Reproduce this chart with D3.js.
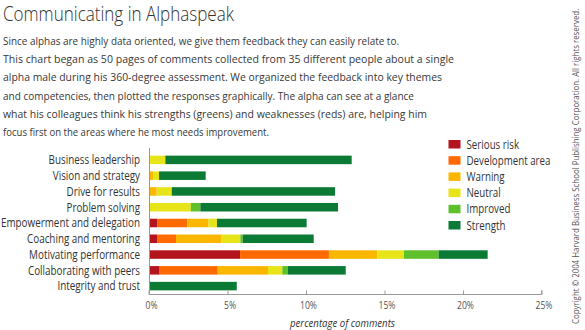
<!DOCTYPE html>
<html>
<head>
<meta charset="utf-8">
<script src="https://cdn.jsdelivr.net/npm/d3@7"></script>
<style>
  html, body { margin: 0; padding: 0; background: #fff; }
  svg { display: block; font-family: "Open Sans", "Noto Sans", sans-serif; }
</style>
</head>
<body>
<svg id="chart" width="585" height="330"></svg>
<script>
// ---------- data ----------
const categories = [
  "Business leadership",
  "Vision and strategy",
  "Drive for results",
  "Problem solving",
  "Empowerment and delegation",
  "Coaching and mentoring",
  "Motivating performance",
  "Collaborating with peers",
  "Integrity and trust"
];
const seriesNames = ["Serious risk", "Development area", "Warning", "Neutral", "Improved", "Strength"];
const seriousRisk     = [0,    0,    0,    0,    0.51, 0.51, 5.80, 0.68, 0];
const developmentArea = [0,    0,    0,    0,    1.93, 1.21, 5.66, 3.70, 0];
const warning         = [0,    0.27, 0.49, 0,    1.34, 2.87, 3.08, 3.20, 0];
const neutral         = [1.04, 0.37, 0.96, 2.66, 0.55, 1.23, 1.70, 0.91, 0];
const improved        = [0,    0,    0,    0.61, 0,    0.15, 2.21, 0.36, 0];
const strength        = [11.87,2.97, 10.40,8.77, 5.71, 4.52, 3.12, 3.68, 5.59];
const xTicks = [0, 5, 10, 15, 20, 25];
const xTickLabels = ["0%", "5%", "10%", "15%", "20%", "25%"];
const titleText = "Communicating in Alphaspeak";
const bodyLines = [
  "Since alphas are highly data oriented, we give them feedback they can easily relate to.",
  "This chart began as 50 pages of comments collected from 35 different people about a single",
  "alpha male during his 360-degree assessment. We organized the feedback into key themes",
  "and competencies, then plotted the responses graphically. The alpha can see at a glance",
  "what his colleagues think his strengths (greens) and weaknesses (reds) are, helping him",
  "focus first on the areas where he most needs improvement."
];
const axisTitle = "percentage of comments";
const copyrightText = "Copyright \u00A9 2004 Harvard Business School Publishing Corporation. All rights reserved.";

// ---------- styles / layout ----------
const colors = ["#b3141d", "#ff6a00", "#fbb600", "#e8e41a", "#5ec12c", "#0b7a35"];
const bodyWidths = [396, 451, 439, 411, 424, 266];
const seriesValues = [seriousRisk, developmentArea, warning, neutral, improved, strength];

const svg = d3.select("#chart");

// helper: measure natural widths of strings at a font size
function measure(strings, size, extra) {
  const t = svg.append("text").attr("font-size", size);
  if (extra) extra(t);
  const w = strings.map(s => { t.text(s); return t.node().getComputedTextLength(); });
  t.remove();
  return w;
}
// condense a set of strings uniformly so the widest reaches targetWidth
function condensed(sel, strings, size, targetWidth, extra) {
  const w = measure(strings, size, extra);
  const k = targetWidth / Math.max(...w);
  sel.attr("font-size", size)
     .attr("textLength", d => w[strings.indexOf(d)] * k)
     .attr("lengthAdjust", "spacingAndGlyphs");
}

// title
svg.append("text")
  .attr("x", 3).attr("y", 21)
  .attr("font-size", 19.5).attr("font-weight", 300)
  .attr("fill", "#333")
  .attr("textLength", 231).attr("lengthAdjust", "spacingAndGlyphs")
  .text(titleText);

// body paragraph
svg.append("g").selectAll("text")
  .data(bodyLines)
  .join("text")
  .attr("x", 3)
  .attr("y", (d, i) => 45 + i * 18.2)
  .attr("font-size", 11.5)
  .attr("fill", "#383838")
  .attr("textLength", (d, i) => bodyWidths[i])
  .attr("lengthAdjust", "spacingAndGlyphs")
  .text(d => d);

// scales
const x = d3.scaleLinear().domain([0, 25]).range([149, 541.5]);
const y = d3.scaleBand().domain(categories).range([152, 294]).paddingInner(0.46).paddingOuter(0.23);

// stack
const table = categories.map((c, i) => {
  const row = { category: c };
  seriesNames.forEach((s, j) => row[s] = seriesValues[j][i]);
  return row;
});
const stacked = d3.stack().keys(seriesNames)(table);

svg.append("g").selectAll("g")
  .data(stacked)
  .join("g")
  .attr("fill", (d, i) => colors[i])
  .selectAll("rect")
  .data(d => d)
  .join("rect")
  .attr("x", d => x(d[0]))
  .attr("y", d => y(d.data.category))
  .attr("width", d => Math.max(0, x(d[1]) - x(d[0])))
  .attr("height", y.bandwidth());

// category labels
const catLabels = svg.append("g").selectAll("text")
  .data(categories)
  .join("text")
  .attr("x", 140)
  .attr("y", d => y(d) + y.bandwidth() / 2 + 4.3)
  .attr("text-anchor", "end")
  .attr("fill", "#333")
  .text(d => d);
condensed(catLabels, categories, 12.3, 139);

// y axis line
svg.append("line")
  .attr("x1", 149.5).attr("x2", 149.5)
  .attr("y1", 148).attr("y2", 294)
  .attr("stroke", "#999").attr("stroke-width", 1);

// x axis
const xAxis = d3.axisTop(x).tickValues(xTicks).tickSize(4).tickFormat(() => "");
const ax = svg.append("g").attr("transform", "translate(0,294.5)").call(xAxis);
ax.select(".domain").attr("stroke", "#999").attr("d", `M${x(0)},-4V0H${x(25)}V-4`);
ax.selectAll(".tick line").attr("stroke", "#999");

const tickLabels = svg.append("g").selectAll("text")
  .data(xTickLabels)
  .join("text")
  .attr("x", (d, i) => x(xTicks[i]) + 2.5)
  .attr("y", 309)
  .attr("text-anchor", "middle")
  .attr("fill", "#555")
  .text(d => d);
condensed(tickLabels, xTickLabels, 11.5, 17);

// axis title
const at = svg.append("text")
  .datum(axisTitle)
  .attr("x", 342.5).attr("y", 327)
  .attr("text-anchor", "middle")
  .attr("font-style", "italic")
  .attr("fill", "#333")
  .text(axisTitle);
condensed(at, [axisTitle], 11.5, 105, t => t.attr("font-style", "italic"));

// legend
const lg = svg.append("g").selectAll("g")
  .data(seriesNames)
  .join("g")
  .attr("transform", (d, i) => `translate(448.5,${140 + i * 16.2})`);
lg.append("rect")
  .attr("width", 12).attr("height", 8.5)
  .attr("fill", (d, i) => colors[i]);
const legText = lg.append("text")
  .attr("x", 18).attr("y", 8.6)
  .attr("fill", "#333")
  .text(d => d);
condensed(legText, seriesNames, 12, 84);

// copyright (rotated, horizontally condensed by a scale transform)
const cw = measure([copyrightText], 9)[0];
svg.append("text")
  .attr("transform", `translate(578.5,324) rotate(-90) scale(${316 / cw},1)`)
  .attr("font-size", 9)
  .attr("fill", "#555")
  .text(copyrightText);
</script>
</body>
</html>
